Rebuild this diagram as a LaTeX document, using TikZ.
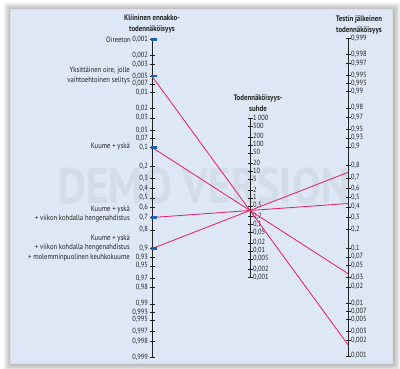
\documentclass[tikz,border=0pt]{standalone}
\usepackage{fontspec}
\setmainfont{PT Sans}[FakeStretch=0.86]
\usetikzlibrary{calc}
\definecolor{panel}{RGB}{221,231,245}
\definecolor{wm}{RGB}{211,220,233}
\definecolor{pinkline}{RGB}{228,38,105}
\definecolor{markblue}{RGB}{30,95,175}
\definecolor{ink}{RGB}{35,35,35}
\begin{document}
\begin{tikzpicture}[x=1pt,y=-1pt,
  ticklab/.style={font=\fontsize{7.5}{8}\selectfont, text=ink, inner sep=0pt, text height=5pt, text depth=1pt},
  tag/.style={font=\fontsize{7.7}{9.6}\selectfont, text=ink, inner sep=0pt, align=right, anchor=east},
  title/.style={font=\bfseries\fontsize{8}{10.5}\selectfont, text=ink, inner sep=0pt, align=center},
  axisline/.style={draw=ink, line width=0.7pt},
  tickline/.style={draw=ink, line width=0.6pt},
  marker/.style={draw=markblue, line width=2.3pt},
  nomoline/.style={draw=pinkline, line width=0.85pt}]
\useasboundingbox (0,0) rectangle (400,369);
\fill[white] (0,0) rectangle (400,369);
% shadow
\foreach \i in {1,...,8}
  \fill[black, opacity=0.035, rounded corners=2pt]
    (11-\i*0.95, 10-\i*0.95) rectangle (393+\i*0.95, 364+\i*0.95);
% panel
\fill[panel, draw=white!75!gray, line width=0.6pt] (10,9) rectangle (392,363);
% watermark
\node[font=\bfseries\fontsize{50}{52}\selectfont, text=wm, inner sep=0pt] (wmark) at (204,186) {DEMO VERSION};
% titles
\node[title] (t1) at (152,24) {Kliininen ennakko-\\todennäköisyys};
\node[title] (t2) at (258,103) {Todennäköisyys-\\suhde};
\node[title] (t3) at (359,25) {Testin jälkeinen\\todennäköisyys};
% left axis
\draw[axisline] (152,39) -- (152,357);
\foreach \p/\t in {0.001/{0,001},0.002/{0,002},0.003/{0,003},0.005/{0,005},0.007/{0,007},0.01/{0,01},0.02/{0,02},0.03/{0,03},0.05/{0,05},0.07/{0,07},0.1/{0,1},0.2/{0,2},0.3/{0,3},0.4/{0,4},0.5/{0,5},0.6/{0,6},0.7/{0,7},0.8/{0,8},0.9/{0,9},0.93/{0,93},0.95/{0,95},0.97/{0,97},0.98/{0,98},0.99/{0,99},0.993/{0,993},0.995/{0,995},0.997/{0,997},0.998/{0,998},0.999/{0,999}}{
  \pgfmathsetmacro\yy{198+23.03*ln(\p/(1-\p))}
  \draw[tickline] (149.5,\yy) -- (154.5,\yy);
  \node[ticklab, anchor=east] at (148,\yy) {\t};
}
% middle axis
\draw[axisline] (250,118.5) -- (250,277.5);
\foreach \v/\t in {1000/{1\,000},500/{500},200/{200},100/{100},50/{50},20/{20},10/{10},5/{5},2/{2},1/{1},0.5/{0,5},0.2/{0,2},0.1/{0,1},0.05/{0,05},0.02/{0,02},0.01/{0,01},0.005/{0,005},0.002/{0,002},0.001/{0,001}}{
  \pgfmathsetmacro\yy{198-11.515*ln(\v)}
  \draw[tickline] (247.5,\yy) -- (252.5,\yy);
  \node[ticklab, anchor=west] at (253,\yy) {\t};
}
% right axis
\draw[axisline] (348,38.5) -- (348,356.5);
\foreach \p/\t in {0.001/{0,001},0.002/{0,002},0.003/{0,003},0.005/{0,005},0.007/{0,007},0.01/{0,01},0.02/{0,02},0.03/{0,03},0.05/{0,05},0.07/{0,07},0.1/{0,1},0.2/{0,2},0.3/{0,3},0.4/{0,4},0.5/{0,5},0.6/{0,6},0.7/{0,7},0.8/{0,8},0.9/{0,9},0.93/{0,93},0.95/{0,95},0.97/{0,97},0.98/{0,98},0.99/{0,99},0.993/{0,993},0.995/{0,995},0.997/{0,997},0.998/{0,998},0.999/{0,999}}{
  \pgfmathsetmacro\yy{197.5-23.03*ln(\p/(1-\p))}
  \draw[tickline] (345.5,\yy) -- (350.5,\yy);
  \node[ticklab, anchor=west] at (351,\yy) {\t};
}
% left tags
\node[tag] (g1) at (131,39.5) {Oireeton};
\node[tag] (g2) at (130,75.5) {Yksittäinen oire, jolle\\vaihtoehtoinen selitys};
\node[tag] (g3) at (130,147) {Kuume + yskä};
\node[tag] (g4) at (130,214) {Kuume + yskä\\+ viikon kohdalla hengenahdistus};
\node[tag] (g5) at (130,248) {Kuume + yskä\\+ viikon kohdalla hengenahdistus\\+ molemminpuolinen keuhkokuume};
% points
\coordinate (P) at (250,210.5);
\pgfmathsetmacro\ya{198+23.03*ln(0.001/0.999)}
\pgfmathsetmacro\yb{198+23.03*ln(0.005/0.995)}
\pgfmathsetmacro\yc{198+23.03*ln(0.1/0.9)}
\pgfmathsetmacro\yd{198+23.03*ln(0.7/0.3)}
\pgfmathsetmacro\ye{198+23.03*ln(0.9/0.1)}
\coordinate (L0) at (152,\ya);
\coordinate (L1) at (152,\yb);
\coordinate (L2) at (152,\yc);
\coordinate (L3) at (152,\yd);
\coordinate (L4) at (152,\ye);
\foreach \k in {1,2,3,4}{
  \coordinate (R\k) at ($(L\k)!2!(P)$);
  \draw[nomoline] (L\k) -- (R\k);
}
\foreach \k in {0,1,2,3,4}{
  \draw[marker] ($(L\k)+(-1.5,0)$) -- ($(L\k)+(5,0)$);
}
\end{tikzpicture}
\end{document}
